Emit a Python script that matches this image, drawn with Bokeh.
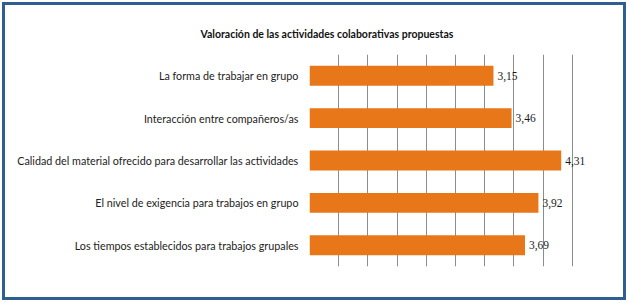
from bokeh.plotting import figure
from bokeh.models import ColumnDataSource, FixedTicker, LabelSet, FactorRange, Range1d
from bokeh.embed import file_html
from bokeh.resources import INLINE

categories = [
    "La forma de trabajar en grupo",
    "Interacción entre compañeros/as",
    "Calidad del material ofrecido para desarrollar las actividades",
    "El nivel de exigencia para trabajos en grupo",
    "Los tiempos establecidos para trabajos grupales",
]
values = [3.15, 3.46, 4.31, 3.92, 3.69]
grid_ticks = [0, 0.5, 1, 1.5, 2, 2.5, 3, 3.5, 4, 4.5, 5]
title_text = "Valoración de las actividades colaborativas propuestas"

FONT = "Lato"

labels = [f"{v:.2f}".replace(".", ",") for v in values]
src = ColumnDataSource(dict(cat=categories, val=values, lab=labels))

p = figure(
    width=624, height=298,
    y_range=FactorRange(factors=list(reversed(categories)), range_padding=0),
    x_range=Range1d(0, 5),
    output_backend="svg", toolbar_location=None,
    min_border_left=304, min_border_right=28, min_border_top=49, min_border_bottom=37,
)
p.styles = {"border": "3px solid #2F5E92", "margin": "2px"}

p.hbar(y="cat", right="val", left=0, height=0.47, source=src,
       fill_color="#E8771A", line_color=None)

ls = LabelSet(x="val", y="cat", text="lab", source=src, x_offset=4, y_offset=0,
              text_baseline="middle", text_font_size="11.5px", text_color="#1A1A1A",
              text_font=FONT)
p.add_layout(ls)

p.title.text = title_text
p.title.text_font = FONT
p.title.text_font_size = "10.5px"
p.title.text_font_style = "bold"
p.title.text_color = "#111111"
p.title.align = "left"
p.title.offset = -109
p.title.standoff = 30

p.xaxis.visible = False
p.xgrid.ticker = FixedTicker(ticks=grid_ticks)
p.xgrid.grid_line_color = "#8C8C8C"
p.xgrid.grid_line_width = 1
p.ygrid.grid_line_color = None
p.outline_line_color = None

ya = p.yaxis[0]
ya.axis_line_color = None
ya.major_tick_line_color = None
ya.minor_tick_line_color = None
ya.major_tick_out = 0
ya.major_tick_in = 0
ya.major_label_standoff = 11
ya.major_label_text_font = FONT
ya.major_label_text_font_size = "10.75px"
ya.major_label_text_color = "#222222"

open("out.html", "w").write(file_html(p, INLINE))
